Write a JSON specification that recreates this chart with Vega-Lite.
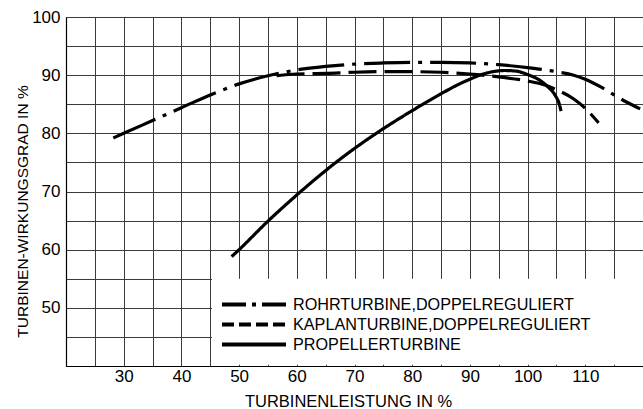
{
  "$schema": "https://vega.github.io/schema/vega-lite/v6.json",
  "width": 577,
  "height": 349,
  "autosize": {"type": "none"},
  "padding": {"left": 66, "top": 17, "right": 0, "bottom": 43},
  "background": "white",
  "config": {"view": {"stroke": null}, "font": "Liberation Sans"},
  "datasets": {
    "box": [{"x": 45.3, "xe": 120, "y": 40.2, "ye": 55}],
    "curves": [
      {"series": "ROHRTURBINE,DOPPELREGULIERT", "x": 28.2, "y": 79.2},
      {"series": "ROHRTURBINE,DOPPELREGULIERT", "x": 30, "y": 80.0},
      {"series": "ROHRTURBINE,DOPPELREGULIERT", "x": 35, "y": 82.2},
      {"series": "ROHRTURBINE,DOPPELREGULIERT", "x": 40, "y": 84.4},
      {"series": "ROHRTURBINE,DOPPELREGULIERT", "x": 45, "y": 86.6},
      {"series": "ROHRTURBINE,DOPPELREGULIERT", "x": 50, "y": 88.5},
      {"series": "ROHRTURBINE,DOPPELREGULIERT", "x": 55, "y": 89.9},
      {"series": "ROHRTURBINE,DOPPELREGULIERT", "x": 60, "y": 90.9},
      {"series": "ROHRTURBINE,DOPPELREGULIERT", "x": 65, "y": 91.5},
      {"series": "ROHRTURBINE,DOPPELREGULIERT", "x": 70, "y": 91.9},
      {"series": "ROHRTURBINE,DOPPELREGULIERT", "x": 75, "y": 92.1},
      {"series": "ROHRTURBINE,DOPPELREGULIERT", "x": 80, "y": 92.2},
      {"series": "ROHRTURBINE,DOPPELREGULIERT", "x": 85, "y": 92.2},
      {"series": "ROHRTURBINE,DOPPELREGULIERT", "x": 90, "y": 92.1},
      {"series": "ROHRTURBINE,DOPPELREGULIERT", "x": 95, "y": 91.8},
      {"series": "ROHRTURBINE,DOPPELREGULIERT", "x": 100, "y": 91.3},
      {"series": "ROHRTURBINE,DOPPELREGULIERT", "x": 105, "y": 90.6},
      {"series": "ROHRTURBINE,DOPPELREGULIERT", "x": 108, "y": 90.0},
      {"series": "ROHRTURBINE,DOPPELREGULIERT", "x": 110, "y": 89.3},
      {"series": "ROHRTURBINE,DOPPELREGULIERT", "x": 113, "y": 87.8},
      {"series": "ROHRTURBINE,DOPPELREGULIERT", "x": 116, "y": 86.0},
      {"series": "ROHRTURBINE,DOPPELREGULIERT", "x": 119.5, "y": 84.2},
      {"series": "KAPLANTURBINE,DOPPELREGULIERT", "x": 56.5, "y": 89.9},
      {"series": "KAPLANTURBINE,DOPPELREGULIERT", "x": 60, "y": 90.2},
      {"series": "KAPLANTURBINE,DOPPELREGULIERT", "x": 65, "y": 90.3},
      {"series": "KAPLANTURBINE,DOPPELREGULIERT", "x": 70, "y": 90.5},
      {"series": "KAPLANTURBINE,DOPPELREGULIERT", "x": 75, "y": 90.6},
      {"series": "KAPLANTURBINE,DOPPELREGULIERT", "x": 80, "y": 90.6},
      {"series": "KAPLANTURBINE,DOPPELREGULIERT", "x": 85, "y": 90.5},
      {"series": "KAPLANTURBINE,DOPPELREGULIERT", "x": 90, "y": 90.2},
      {"series": "KAPLANTURBINE,DOPPELREGULIERT", "x": 95, "y": 89.7},
      {"series": "KAPLANTURBINE,DOPPELREGULIERT", "x": 100, "y": 89.0},
      {"series": "KAPLANTURBINE,DOPPELREGULIERT", "x": 103, "y": 88.3},
      {"series": "KAPLANTURBINE,DOPPELREGULIERT", "x": 105, "y": 87.5},
      {"series": "KAPLANTURBINE,DOPPELREGULIERT", "x": 108, "y": 85.9},
      {"series": "KAPLANTURBINE,DOPPELREGULIERT", "x": 110, "y": 84.3},
      {"series": "KAPLANTURBINE,DOPPELREGULIERT", "x": 112.3, "y": 81.8},
      {"series": "PROPELLERTURBINE", "x": 48.7, "y": 58.8},
      {"series": "PROPELLERTURBINE", "x": 50, "y": 60.0},
      {"series": "PROPELLERTURBINE", "x": 55, "y": 64.9},
      {"series": "PROPELLERTURBINE", "x": 60, "y": 69.4},
      {"series": "PROPELLERTURBINE", "x": 65, "y": 73.6},
      {"series": "PROPELLERTURBINE", "x": 70, "y": 77.4},
      {"series": "PROPELLERTURBINE", "x": 75, "y": 80.8},
      {"series": "PROPELLERTURBINE", "x": 80, "y": 83.9},
      {"series": "PROPELLERTURBINE", "x": 85, "y": 86.8},
      {"series": "PROPELLERTURBINE", "x": 88, "y": 88.4},
      {"series": "PROPELLERTURBINE", "x": 90, "y": 89.3},
      {"series": "PROPELLERTURBINE", "x": 92, "y": 90.1},
      {"series": "PROPELLERTURBINE", "x": 94, "y": 90.6},
      {"series": "PROPELLERTURBINE", "x": 96, "y": 90.8},
      {"series": "PROPELLERTURBINE", "x": 98, "y": 90.7},
      {"series": "PROPELLERTURBINE", "x": 100, "y": 90.1},
      {"series": "PROPELLERTURBINE", "x": 102, "y": 89.2},
      {"series": "PROPELLERTURBINE", "x": 103.5, "y": 88.0},
      {"series": "PROPELLERTURBINE", "x": 104.8, "y": 86.5},
      {"series": "PROPELLERTURBINE", "x": 105.5, "y": 85.0},
      {"series": "PROPELLERTURBINE", "x": 105.8, "y": 83.8}
    ]
  },
  "encoding": {
    "x": {
      "field": "x",
      "type": "quantitative",
      "scale": {"domain": [20, 120], "nice": false, "zero": false},
      "axis": {
        "title": "TURBINENLEISTUNG IN %",
        "titleFont": "Liberation Sans",
        "titleFontSize": 16.5,
        "titleFontWeight": "normal",
        "titleColor": "black",
        "titleX": 282,
        "titleY": 40.7,
        "titleAlign": "center",
        "titleBaseline": "alphabetic",
        "values": [20, 25, 30, 35, 40, 45, 50, 55, 60, 65, 70, 75, 80, 85, 90, 95, 100, 105, 110, 115, 120],
        "labelExpr": "datum.value % 10 == 0 && datum.value > 20 && datum.value < 120 ? datum.label : ''",
        "labelFontSize": 17,
        "labelColor": "black",
        "labelBaseline": "alphabetic",
        "labelPadding": 15,
        "labelFlush": false,
        "labelOverlap": false,
        "ticks": false,
        "grid": true,
        "gridColor": "#3a3a3a",
        "gridOpacity": 1,
        "gridWidth": 1,
        "domainColor": "black",
        "domainWidth": 1.2
      }
    },
    "y": {
      "field": "y",
      "type": "quantitative",
      "scale": {"domain": [40, 100], "nice": false, "zero": false},
      "axis": {
        "title": "TURBINEN-WIRKUNGSGRAD IN %",
        "titleFont": "Liberation Sans",
        "titleFontSize": 15.5,
        "titleFontWeight": "normal",
        "titleColor": "black",
        "titleAngle": -90,
        "titleX": -39,
        "titleY": 194,
        "titleAlign": "center",
        "titleBaseline": "alphabetic",
        "values": [40, 45, 50, 55, 60, 65, 70, 75, 80, 85, 90, 95, 100],
        "labelExpr": "datum.value % 10 == 0 && datum.value > 40 ? datum.label : ''",
        "labelFontSize": 17,
        "labelColor": "black",
        "labelPadding": 6,
        "labelFlush": false,
        "labelOverlap": false,
        "ticks": false,
        "grid": true,
        "gridColor": "#3a3a3a",
        "gridOpacity": 1,
        "gridWidth": 1,
        "domainColor": "black",
        "domainWidth": 1.2
      }
    }
  },
  "resolve": {"scale": {"strokeDash": "independent"}, "legend": {"strokeDash": "independent"}},
  "layer": [
    {
      "data": {"name": "box"},
      "mark": {"type": "rect", "fill": "white", "stroke": null},
      "encoding": {
        "x2": {"field": "xe"},
        "y2": {"field": "ye"}
      }
    },
    {
      "data": {"name": "curves"},
      "mark": {"type": "line", "color": "black", "strokeWidth": 3.2, "interpolate": "monotone", "strokeCap": "butt"},
      "encoding": {
        "strokeDash": {
          "field": "series",
          "type": "nominal",
          "scale": {
            "domain": ["ROHRTURBINE,DOPPELREGULIERT", "KAPLANTURBINE,DOPPELREGULIERT", "PROPELLERTURBINE"],
            "range": [[46, 8, 4, 8], [28, 8], [1, 0]]
          },
          "legend": null
        },
        "order": {"field": "x", "type": "quantitative"}
      }
    },
    {
      "data": {"name": "curves"},
      "transform": [{"filter": "false"}],
      "mark": {"type": "line", "color": "black", "strokeWidth": 4, "strokeCap": "butt"},
      "encoding": {
        "strokeDash": {
          "field": "series",
          "type": "nominal",
          "scale": {
            "domain": ["ROHRTURBINE,DOPPELREGULIERT", "KAPLANTURBINE,DOPPELREGULIERT", "PROPELLERTURBINE"],
            "range": [[24, 6, 4, 6], [12, 5], [1, 0]]
          },
          "legend": {
            "orient": "none",
            "legendX": 178,
            "legendY": 277.5,
            "title": null,
            "padding": 0,
            "symbolType": "M-4,0H4",
            "symbolSize": 256,
            "symbolStrokeWidth": 4,
            "symbolStrokeColor": "black",
            "symbolFillColor": "transparent",
            "labelFont": "Liberation Sans",
            "labelFontSize": 16.2,
            "labelColor": "black",
            "labelOffset": 29,
            "labelLimit": 400,
            "rowPadding": 1
          }
        }
      }
    }
  ]
}
